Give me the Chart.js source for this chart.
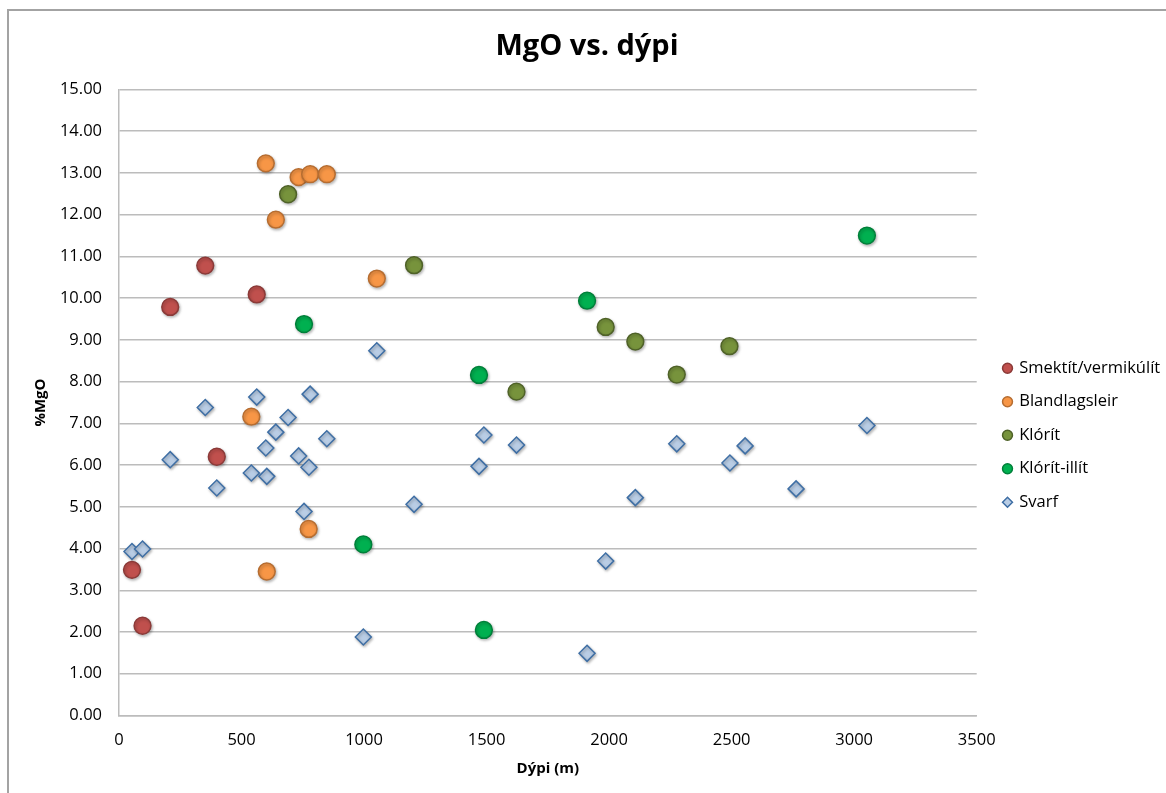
<!DOCTYPE html>
<html>
<head>
<meta charset="utf-8">
<script src="https://cdn.jsdelivr.net/npm/chart.js@4.4.0/dist/chart.umd.min.js"></script>
<style>
html,body{margin:0;padding:0;background:#fff;}
#wrap{position:relative;width:1166px;height:793px;overflow:hidden;background:#fff;}
#frame{position:absolute;left:7px;top:9px;width:1300px;height:900px;border-left:2px solid #a3a3a3;border-top:2px solid #a3a3a3;}
canvas{position:absolute;left:0;top:0;}
</style>
</head>
<body>
<div id="wrap"><div id="frame"></div><canvas id="c" width="1166" height="793"></canvas></div>
<script>
// ---- data (depth in m, MgO in %) ----
const chartTitle = 'MgO vs. dýpi';
const xAxisTitle = 'Dýpi (m)';
const yAxisTitle = '%MgO';
const seriesNames = ['Smektít/vermikúlít', 'Blandlagsleir', 'Klórít', 'Klórít-illít', 'Svarf'];

const smektitDepth = [53, 96, 209, 352, 399, 562];
const smektitMgO   = [3.49, 2.15, 9.79, 10.78, 6.20, 10.09];

const blandDepth = [540, 599, 603, 640, 733, 774, 780, 848, 1052];
const blandMgO   = [7.16, 13.23, 3.45, 11.88, 12.90, 4.47, 12.97, 12.97, 10.47];

const kloritDepth = [690, 1204, 1622, 1986, 2107, 2276, 2491];
const kloritMgO   = [12.49, 10.79, 7.76, 9.31, 8.96, 8.17, 8.85];

const kloritIllitDepth = [755, 997, 1469, 1489, 1910, 3052];
const kloritIllitMgO   = [9.38, 4.10, 8.16, 2.05, 9.94, 11.50];

const svarfDepth = [53, 96, 209, 352, 399, 540, 562, 599, 603, 640, 690, 733, 755, 775, 780, 848, 997, 1052, 1204, 1469, 1489, 1622, 1910, 1986, 2107, 2276, 2493, 2555, 2763, 3052];
const svarfMgO   = [3.93, 3.99, 6.13, 7.38, 5.45, 5.81, 7.63, 6.41, 5.73, 6.79, 7.14, 6.22, 4.89, 5.95, 7.70, 6.63, 1.88, 8.74, 5.06, 5.97, 6.72, 6.48, 1.49, 3.70, 5.22, 6.51, 6.05, 6.46, 5.43, 6.95];

const xTickValues = [0, 500, 1000, 1500, 2000, 2500, 3000, 3500];
const yTickValues = [0, 1, 2, 3, 4, 5, 6, 7, 8, 9, 10, 11, 12, 13, 14, 15];

// ---- styling ----
const FONT = "'Open Sans', sans-serif";
const GRID = '#bcbcbc';
const LEGEND_W = 1166 - 976.7;

function pts(xs, ys){ return xs.map((x, i) => ({x: x, y: ys[i]})); }

const styles = [
  {bg:'#C0504D', bd:'#8B3A38', ps:'circle', r:8.4},
  {bg:'#F79646', bd:'#B66D31', ps:'circle', r:8.4},
  {bg:'#77933C', bd:'#4F6228', ps:'circle', r:8.4},
  {bg:'#00B050', bd:'#00803A', ps:'circle', r:8.4},
  {bg:'#B9CDE5', bd:'#3F6FA5', ps:'rectRot', r:8.0}
];
const seriesData = [
  pts(smektitDepth, smektitMgO),
  pts(blandDepth, blandMgO),
  pts(kloritDepth, kloritMgO),
  pts(kloritIllitDepth, kloritIllitMgO),
  pts(svarfDepth, svarfMgO)
];

const datasets = seriesNames.map((name, i) => ({
  label: name,
  data: seriesData[i],
  backgroundColor: styles[i].bg,
  borderColor: styles[i].bd,
  borderWidth: 1.5,
  pointStyle: styles[i].ps,
  pointRadius: styles[i].r,
  pointHoverRadius: styles[i].r
}));

const legendPlacement = {
  id: 'legendPlacement',
  beforeLayout(chart){
    const lg = chart.legend;
    if (lg && !lg.__fixed){
      const f = lg.fit;
      lg.fit = function(){ f.call(this); this.width = LEGEND_W; };
      lg.__fixed = true;
    }
  },
  afterLayout(chart){
    const lg = chart.legend;
    if (!lg) return;
    const w = lg.width, h = lg.height;
    lg.left = 987; lg.right = lg.left + w;
    lg.top = 343; lg.bottom = lg.top + h;
  }
};

const markerShadow = {
  id: 'markerShadow',
  beforeDatasetsDraw(chart){
    const c = chart.ctx;
    c.save();
    c.shadowColor = 'rgba(0,0,0,0.28)';
    c.shadowBlur = 3;
    c.shadowOffsetX = 1;
    c.shadowOffsetY = 1.5;
  },
  afterDatasetsDraw(chart){ chart.ctx.restore(); }
};

new Chart(document.getElementById('c'), {
  type: 'scatter',
  data: { datasets: datasets },
  options: {
    responsive: false,
    animation: false,
    devicePixelRatio: 1,
    layout: { padding: { left: 8, top: 10, right: 0, bottom: 0 } },
    plugins: {
      title: {
        display: true, text: chartTitle, color: '#000',
        font: { family: FONT, size: 29, weight: 'bold', lineHeight: 1.2 },
        padding: { top: 19.1, bottom: 25.6 }
      },
      legend: {
        position: 'right', align: 'start',
        labels: {
          usePointStyle: true, boxWidth: 7, boxHeight: 7, padding: 17,
          color: '#000', font: { family: FONT, size: 16.5 }
        }
      },
      tooltip: { enabled: false }
    },
    scales: {
      x: {
        type: 'linear', min: 0, max: 3500,
        afterBuildTicks: s => { s.ticks = xTickValues.map(v => ({value: v})); },
        ticks: { color: '#000', font: { family: FONT, size: 16.5 }, padding: 14.6, maxRotation: 0, callback: v => String(v) },
        grid: { display: false, drawTicks: false },
        border: { display: true, color: GRID, width: 1.5 },
        title: { display: true, text: xAxisTitle, color: '#000', font: { family: FONT, size: 15, weight: 'bold', lineHeight: 1.2 }, padding: { top: 0, bottom: 15 } },
        afterFit: s => { s.height = 77.5; }
      },
      y: {
        type: 'linear', min: 0, max: 15,
        afterBuildTicks: s => { s.ticks = yTickValues.map(v => ({value: v})); },
        ticks: { color: '#000', font: { family: FONT, size: 16.5 }, padding: 17, callback: v => Number(v).toFixed(2) },
        grid: { color: GRID, lineWidth: 1.5, drawTicks: false },
        border: { display: true, color: GRID, width: 1.5 },
        title: { display: true, text: yAxisTitle, color: '#000', font: { family: FONT, size: 15, weight: 'bold', lineHeight: 1.2 }, padding: { top: 24, bottom: 0 } },
        afterFit: s => { s.width = 111; }
      }
    }
  },
  plugins: [legendPlacement, markerShadow]
});
</script>
</body>
</html>
